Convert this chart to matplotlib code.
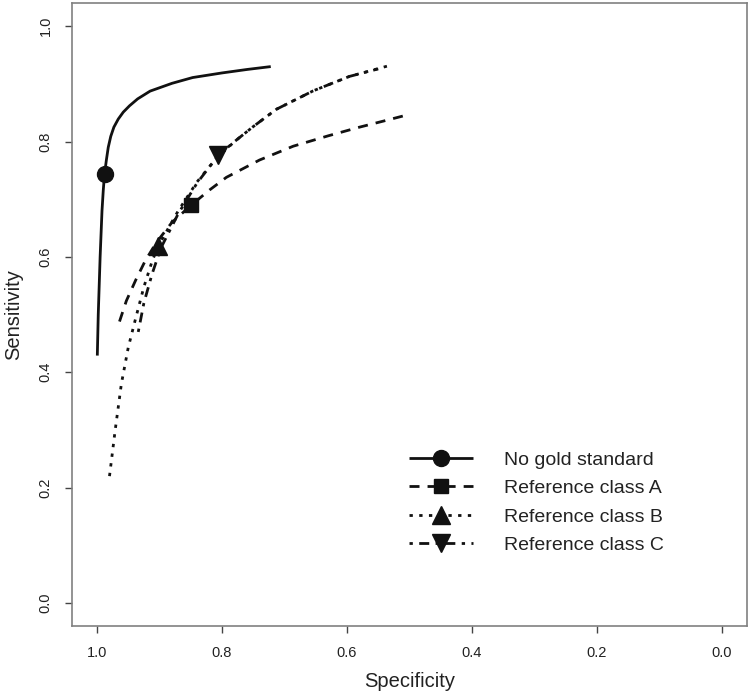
import matplotlib
matplotlib.use("Agg")
import matplotlib.pyplot as plt

plt.rcParams['font.family'] = ['Liberation Sans', 'DejaVu Sans']

# curves (specificity, sensitivity)
nogold_spec = [0.9995, 0.998, 0.995, 0.992, 0.990, 0.988, 0.985, 0.982, 0.978, 0.973,
               0.966, 0.958, 0.948, 0.935, 0.915, 0.88, 0.847, 0.80, 0.76, 0.722]
nogold_sens = [0.429, 0.50, 0.60, 0.680, 0.715, 0.743, 0.768, 0.790, 0.809, 0.825,
               0.839, 0.851, 0.862, 0.874, 0.8875, 0.901, 0.911, 0.919, 0.925, 0.930]

refA_spec = [0.964, 0.953, 0.938, 0.923, 0.905, 0.88, 0.849, 0.82, 0.793, 0.74,
             0.686, 0.63, 0.58, 0.54, 0.508]
refA_sens = [0.488, 0.524, 0.56, 0.593, 0.625, 0.66, 0.690, 0.716, 0.738, 0.768,
             0.792, 0.810, 0.825, 0.836, 0.845]

refB_spec = [0.980, 0.971, 0.961, 0.950, 0.939, 0.925, 0.912, 0.902, 0.87, 0.84,
             0.81, 0.78, 0.75, 0.713, 0.654, 0.596, 0.535]
refB_sens = [0.220, 0.299, 0.380, 0.443, 0.490, 0.548, 0.592, 0.619, 0.68, 0.73,
             0.77, 0.80, 0.826, 0.856, 0.888, 0.913, 0.931]

refC_spec = [0.934, 0.925, 0.912, 0.898, 0.87, 0.84, 0.806, 0.78, 0.75, 0.713,
             0.654, 0.596, 0.55]
refC_sens = [0.47, 0.52, 0.57, 0.615, 0.675, 0.728, 0.776, 0.80, 0.826, 0.856,
             0.888, 0.913, 0.926]

# summary points
point_spec = [0.988, 0.849, 0.902, 0.806]
point_sens = [0.743, 0.690, 0.619, 0.776]

labels = ["No gold standard", "Reference class A", "Reference class B", "Reference class C"]
ticks = [0.0, 0.2, 0.4, 0.6, 0.8, 1.0]

fig = plt.figure(figsize=(7.5, 6.98), dpi=100)
ax = fig.add_axes([0.096, 0.103, 0.9, 0.8925])

curves = [(nogold_spec, nogold_sens), (refA_spec, refA_sens),
          (refB_spec, refB_sens), (refC_spec, refC_sens)]
styles = ['-', (0, (3.6, 2.9)), (0, (1.2, 2.3)), (0, (1.2, 2.3, 3.6, 2.3))]
markers = ['o', 's', '^', 'v']
msizes = [11.5, 9.5, 12.5, 12.5]

handles = []
for i, (xs, ys) in enumerate(curves):
    line, = ax.plot(xs, ys, color='#111111', lw=2, linestyle=styles[i],
                    dash_capstyle='butt', solid_capstyle='butt', solid_joinstyle='round')
    mk, = ax.plot([point_spec[i]], [point_sens[i]], linestyle='none', marker=markers[i],
                  ms=msizes[i], color='#111111', zorder=5)
    handles.append((line, mk))

ax.set_xlim(1.04, -0.04)
ax.set_ylim(-0.04, 1.04)
ax.set_xticks(ticks)
ax.set_yticks(ticks)
ax.set_xticklabels([f"{t:.1f}" for t in ticks])
ax.set_yticklabels([f"{t:.1f}" for t in ticks], rotation=90, va='center')
ax.tick_params(axis='both', length=5, width=1, color='#444444', labelsize=10.5, labelcolor='#222222')
ax.tick_params(axis='x', pad=9)
ax.tick_params(axis='y', pad=9)
for s in ax.spines.values():
    s.set_color('#808080')
    s.set_linewidth(1.2)

ax.set_xlabel("Specificity", fontsize=14.5, color='#222222', labelpad=9)
ax.set_ylabel("Sensitivity", fontsize=14.5, color='#222222', labelpad=11)

ax.legend(handles, labels, loc='upper left', bbox_to_anchor=(409 / 750, 1 - 451 / 698),
          bbox_transform=fig.transFigure, frameon=False, fontsize=14,
          handlelength=3.3, handletextpad=1.6, labelspacing=0.56,
          borderpad=0, borderaxespad=0, numpoints=1, labelcolor='#222222')

fig.savefig("out.png", dpi=100)
